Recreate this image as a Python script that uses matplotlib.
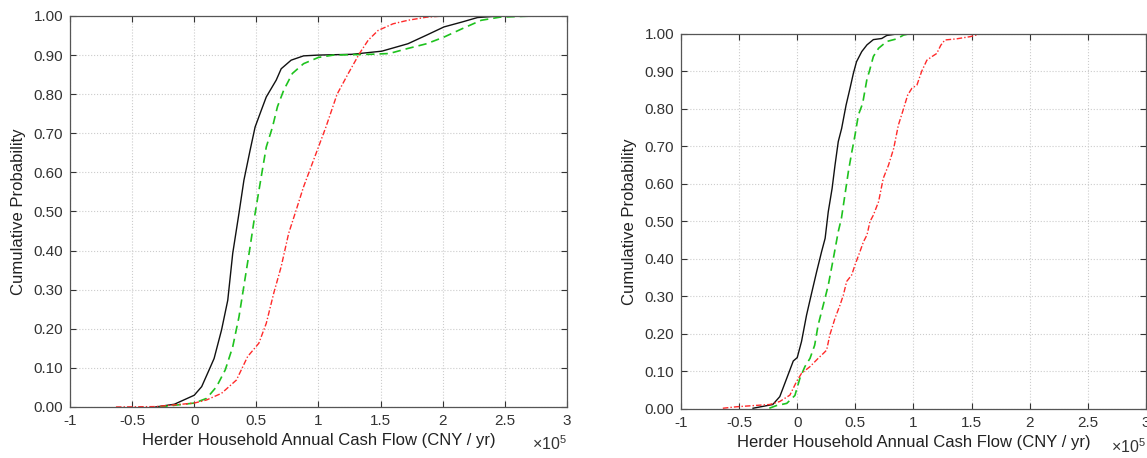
import matplotlib
matplotlib.use("Agg")
import matplotlib.pyplot as plt
import numpy as np

plt.rcParams["font.family"] = ["Liberation Sans", "DejaVu Sans"]
plt.rcParams["mathtext.fontset"] = "custom"
plt.rcParams["mathtext.rm"] = "Liberation Sans"

BLACK, GREEN, RED = "#111111", "#1ec21e", "#ff2a2a"
XLABEL = "Herder Household Annual Cash Flow (CNY / yr)"
YLABEL = "Cumulative Probability"
XTICKS = [-1, -0.5, 0, 0.5, 1, 1.5, 2, 2.5, 3]
YTICKS = [0, 0.1, 0.2, 0.3, 0.4, 0.5, 0.6, 0.7, 0.8, 0.9, 1.0]

# ---- left panel (x in units of 1e5 CNY/yr) ----
L_black_x = [-0.31, -0.16, 0.0, 0.06, 0.12, 0.16, 0.22, 0.27, 0.31, 0.36, 0.40, 0.45, 0.49,
             0.54, 0.58, 0.66, 0.70, 0.78, 0.88, 1.0, 1.27, 1.51, 1.72, 1.87, 2.01, 2.16, 2.28, 2.46]
L_black_y = [0.0, 0.007, 0.03, 0.052, 0.095, 0.124, 0.197, 0.273, 0.393, 0.495, 0.58, 0.657, 0.716,
             0.759, 0.793, 0.836, 0.865, 0.887, 0.898, 0.90, 0.902, 0.91, 0.929, 0.951, 0.972, 0.985, 0.996, 1.0]
L_green_x = [-0.28, 0.0, 0.10, 0.18, 0.25, 0.31, 0.36, 0.40, 0.45, 0.49, 0.54, 0.58, 0.63, 0.67,
             0.72, 0.79, 0.88, 1.0, 1.12, 1.42, 1.57, 1.72, 1.87, 2.01, 2.16, 2.31, 2.46, 2.73]
L_green_y = [0.0, 0.01, 0.022, 0.052, 0.095, 0.154, 0.23, 0.31, 0.41, 0.495, 0.59, 0.665, 0.716, 0.768,
             0.81, 0.853, 0.878, 0.894, 0.90, 0.902, 0.904, 0.917, 0.929, 0.946, 0.968, 0.989, 0.997, 1.0]
L_red_x = [-0.63, -0.31, 0.0, 0.10, 0.22, 0.34, 0.43, 0.52, 0.58, 0.64, 0.70, 0.76, 0.82, 0.88,
           0.94, 1.0, 1.06, 1.15, 1.24, 1.33, 1.40, 1.48, 1.60, 1.72, 1.87, 2.01]
L_red_y = [0.0, 0.001, 0.01, 0.018, 0.035, 0.069, 0.129, 0.163, 0.214, 0.291, 0.359, 0.444, 0.503, 0.563,
           0.614, 0.665, 0.716, 0.80, 0.853, 0.904, 0.938, 0.963, 0.98, 0.989, 0.997, 1.0]

# ---- right panel ----
R_black_x = [-0.38, -0.21, -0.15, -0.09, -0.034, 0.0, 0.037, 0.08, 0.12, 0.167, 0.21, 0.24, 0.267,
             0.30, 0.325, 0.353, 0.382, 0.42, 0.454, 0.483, 0.51, 0.555, 0.60, 0.655, 0.727, 0.77, 0.856]
R_black_y = [0.002, 0.012, 0.033, 0.082, 0.128, 0.137, 0.18, 0.25, 0.304, 0.366, 0.42, 0.455, 0.526,
             0.588, 0.65, 0.713, 0.748, 0.81, 0.855, 0.895, 0.926, 0.953, 0.971, 0.985, 0.988, 0.996, 1.0]
R_green_x = [-0.24, -0.18, -0.09, -0.02, 0.023, 0.066, 0.11, 0.15, 0.18, 0.224, 0.267, 0.31, 0.353,
             0.38, 0.41, 0.44, 0.47, 0.497, 0.526, 0.563, 0.60, 0.62, 0.655, 0.70, 0.77, 0.856, 0.914, 0.957]
R_green_y = [0.002, 0.009, 0.015, 0.036, 0.082, 0.113, 0.135, 0.17, 0.224, 0.277, 0.33, 0.40, 0.473,
             0.508, 0.57, 0.633, 0.686, 0.73, 0.784, 0.815, 0.88, 0.90, 0.94, 0.962, 0.98, 0.987, 0.997, 1.0]
R_red_x = [-0.64, -0.52, -0.38, -0.236, -0.15, -0.063, -0.006, 0.037, 0.11, 0.18, 0.224, 0.253, 0.28,
           0.325, 0.368, 0.397, 0.425, 0.468, 0.497, 0.54, 0.57, 0.60, 0.626, 0.655, 0.70, 0.74, 0.785,
           0.83, 0.87, 0.914, 0.95, 0.986, 1.03, 1.07, 1.115, 1.16, 1.20, 1.235, 1.27, 1.37, 1.43, 1.49, 1.575]
R_red_y = [0.002, 0.006, 0.009, 0.012, 0.02, 0.037, 0.073, 0.095, 0.113, 0.135, 0.148, 0.157, 0.197,
           0.242, 0.277, 0.304, 0.34, 0.357, 0.384, 0.42, 0.446, 0.464, 0.50, 0.517, 0.553, 0.615, 0.65,
           0.695, 0.757, 0.80, 0.837, 0.855, 0.864, 0.90, 0.93, 0.94, 0.948, 0.97, 0.984, 0.987, 0.99, 0.993, 1.0]

# axes rects in figure fractions, plus y offset (axes frac) of the x10^5 note
panels = [
    ([0.0610, 0.1114, 0.4333, 0.8537], -0.093,
     (L_black_x, L_black_y), (L_green_x, L_green_y), (L_red_x, L_red_y)),
    ([0.5937, 0.1070, 0.4054, 0.8188], -0.100,
     (R_black_x, R_black_y), (R_green_x, R_green_y), (R_red_x, R_red_y)),
]

fig = plt.figure(figsize=(11.47, 4.58), dpi=100)
for rect, ynote, blk, grn, red in panels:
    ax = fig.add_axes(rect)
    ax.plot(*blk, color=BLACK, lw=1.0, ls="-")
    ax.plot(*grn, color=GREEN, lw=1.2, ls=(0, (5, 3)))
    ax.plot(*red, color=RED, lw=1.0, ls=(0, (4, 1.5, 1, 1.5)))
    ax.set_xlim(-1, 3); ax.set_ylim(0, 1)
    ax.set_xticks(XTICKS); ax.set_xticklabels([f"{t:g}" for t in XTICKS])
    ax.set_yticks(YTICKS); ax.set_yticklabels([f"{t:.2f}" for t in YTICKS])
    ax.tick_params(direction="in", length=4, width=0.8, top=True, right=True,
                   labelsize=11, colors="#333333", pad=5)
    ax.grid(True, color="#cccccc", ls=":", lw=0.8)
    for s in ax.spines.values():
        s.set_color("#555555"); s.set_linewidth(0.9)
    ax.set_xlabel(XLABEL, fontsize=12, color="#222222", labelpad=4)
    ax.set_ylabel(YLABEL, fontsize=12, color="#222222", labelpad=5)
    ax.text(0.999, ynote, r"$\times10^5$", transform=ax.transAxes, ha="right", va="center",
            fontsize=11.5, color="#333333")

fig.savefig("out.png", dpi=100)
